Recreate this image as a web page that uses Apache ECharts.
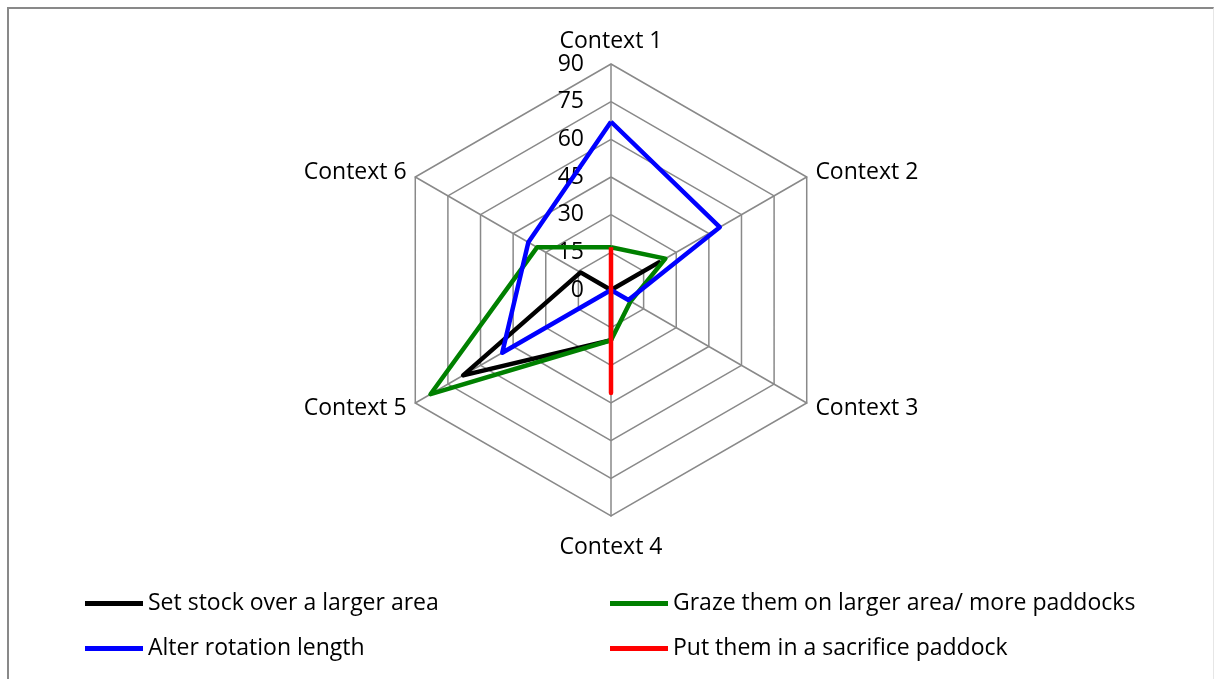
<html lang="en">
<head>
  <meta charset="UTF-8">
  <title>Contexts radar</title>
  <style>
    body { margin: 0; background: #fff; }
    #frame {
      position: absolute; left: 7px; top: 7px; width: 1204px; height: 680px;
      border-left: 2px solid #898989; border-top: 2px solid #898989;
      border-right: 1px solid #e6e6e6;
    }
    #chart { position: absolute; left: 0; top: 0; width: 1214px; height: 679px; }
  </style>
</head>
<body>
  <div id="frame"></div>
  <div id="chart"></div>
  <script src="https://cdn.jsdelivr.net/npm/echarts@6/dist/echarts.min.js"></script>
  <script>
    var contexts = ['Context 1', 'Context 2', 'Context 3', 'Context 4', 'Context 5', 'Context 6']
    var seriesNames = ['Set stock over a larger area', 'Graze them on larger area/ more paddocks',
      'Alter rotation length', 'Put them in a sacrifice paddock']
    var setStock = [0, 22, 0, 20, 68, 14]
    var grazeLarger = [17, 25, 9, 20, 83, 34]
    var alterRotation = [67, 50, 8, 0, 50, 38]
    var sacrifice = [17, 0, 0, 41, 0, 0]
    var colors = ['#000000', '#008000', '#0000ff', '#ff0000']
    var font = 'Open Sans'
    var fs = 23

    // echarts lays radar axes out counter-clockwise, Excel goes clockwise:
    // keep Context 1 first and reverse the rest
    const order = [0, 5, 4, 3, 2, 1]
    const values = [setStock, grazeLarger, alterRotation, sacrifice]

    const chart = echarts.init(document.querySelector('#chart'))
    const option = {
      animation: false,
      radar: {
        center: [611, 290],
        radius: 226,
        startAngle: 90,
        shape: 'polygon',
        splitNumber: 6,
        nameGap: 10,
        axisName: {
          color: '#000', fontFamily: font, fontSize: fs,
          // bottom label sits a bit further out in the original
          formatter: name => name === 'Context 4' ? '{low|' + name + '}' : name,
          rich: { low: { fontFamily: font, fontSize: fs, color: '#000', padding: [10, 0, 0, 0] } }
        },
        indicator: order.map((k, i) => {
          const ind = { name: contexts[k], min: 0, max: 90 }
          if (i === 0) {
            ind.axisLabel = {
              show: true, color: '#000', fontFamily: font, fontSize: fs,
              margin: 27, padding: [5, 0, 0, 0], showMinLabel: true, showMaxLabel: true
            }
          }
          return ind
        }),
        axisLabel: { show: false },
        axisLine: { lineStyle: { color: '#898989', width: 1.5 } },
        splitLine: { lineStyle: { color: '#898989', width: 1.5 } },
        splitArea: { show: false },
        axisTick: { show: false }
      },
      legend: [
        {
          data: [seriesNames[0], seriesNames[2]],
          orient: 'vertical', left: 85, top: 592, itemGap: 22, padding: 0,
          icon: 'rect', itemWidth: 58, itemHeight: 5,
          textStyle: { color: '#000', fontFamily: font, fontSize: fs }
        },
        {
          data: [seriesNames[1], seriesNames[3]],
          orient: 'vertical', left: 610, top: 592, itemGap: 22, padding: 0,
          icon: 'rect', itemWidth: 58, itemHeight: 5,
          textStyle: { color: '#000', fontFamily: font, fontSize: fs }
        }
      ],
      series: seriesNames.map((name, i) => ({
        type: 'radar',
        name: name,
        symbol: 'none',
        z: 2 + i,
        lineStyle: { color: colors[i], width: 4.5 },
        itemStyle: { color: colors[i] },
        data: [{ value: order.map(k => values[i][k]), name: name }]
      }))
    }
    chart.setOption(option)
  </script>
</body>
</html>
